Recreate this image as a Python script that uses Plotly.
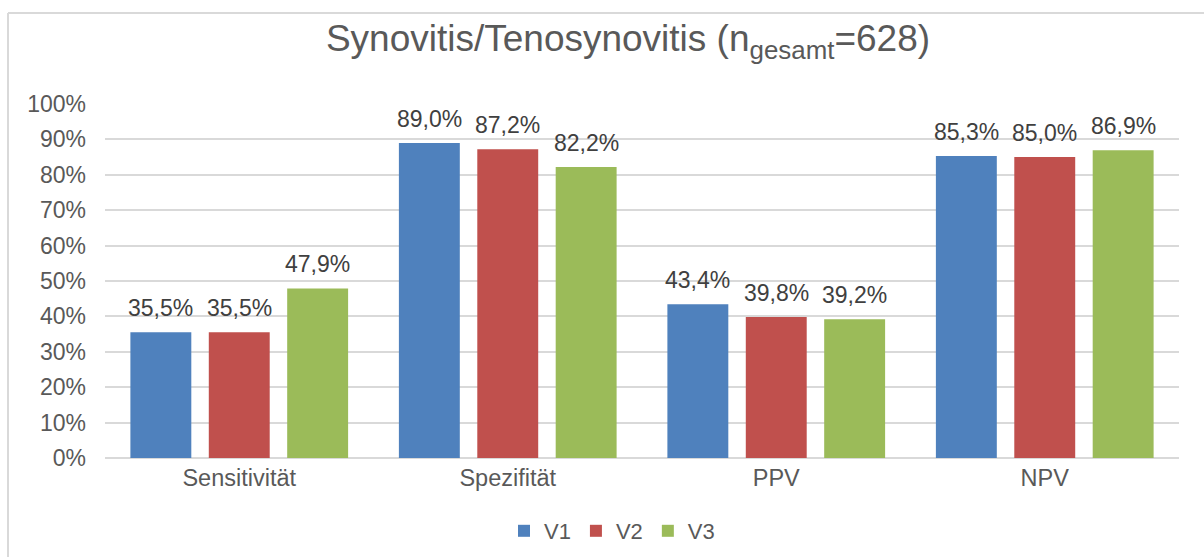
import plotly.graph_objects as go

categories = ["Sensitivität", "Spezifität", "PPV", "NPV"]
series_names = ["V1", "V2", "V3"]
v1 = [35.5, 89.0, 43.4, 85.3]
v2 = [35.5, 87.2, 39.8, 85.0]
v3 = [47.9, 82.2, 39.2, 86.9]
colors = ["#4F81BD", "#C0504D", "#9BBB59"]
y_ticks = [0, 10, 20, 30, 40, 50, 60, 70, 80, 90, 100]
y_tick_labels = [f"{v}%" for v in y_ticks]

W, H = 1204, 557
ML, MR, MT, MB = 105, 25, 104, 99
PW, PH = W - ML - MR, H - MT - MB
BARGAP = 0.124
BARGROUPGAP = 0.223

fig = go.Figure()
series = [v1, v2, v3]
for name, vals, col in zip(series_names, series, colors):
    fig.add_trace(go.Bar(
        x=categories, y=vals, name=name,
        marker=dict(color=col, line=dict(width=0)),
        hoverinfo="x+y+name",
    ))

# data labels placed above each bar (grouped offsets derived from bargap)
n = len(series)
slot = (1 - BARGAP) / n
annotations = []
for j, vals in enumerate(series):
    off = (j - (n - 1) / 2) * slot
    for i, v in enumerate(vals):
        annotations.append(dict(
            x=i + off, y=v, xref="x", yref="y",
            text=f"{v:.1f}".replace(".", ",") + "%",
            showarrow=False, yanchor="bottom", xanchor="center", yshift=9,
            font=dict(size=23, color="#404040"),
        ))

def px_x(p):
    return (p - ML) / PW

def px_y(p):
    return 1 - (p - MT) / PH

border = dict(color="#D9D9D9", width=2)
shapes = [
    dict(type="line", xref="paper", yref="paper", x0=px_x(8), x1=px_x(8), y0=px_y(13), y1=px_y(570), line=border),
    dict(type="line", xref="paper", yref="paper", x0=px_x(8), x1=px_x(1215), y0=px_y(13), y1=px_y(13), line=border),
]

fig.update_layout(
    width=W, height=H,
    margin=dict(l=ML, r=MR, t=MT, b=MB, autoexpand=False),
    paper_bgcolor="white", plot_bgcolor="white",
    font=dict(family="Liberation Sans, Arial, sans-serif", color="#595959"),
    separators=",.",
    title=dict(text="Synovitis/Tenosynovitis (n<sub>gesamt</sub>=628)",
               x=px_x(628), xref="paper", xanchor="center",
               y=1 - 38 / H, yref="container", yanchor="middle",
               font=dict(size=37, color="#595959")),
    barmode="group", bargap=BARGAP, bargroupgap=BARGROUPGAP,
    xaxis=dict(showgrid=False, showline=False, ticks="", automargin=False,
               ticklabelstandoff=3,
               tickfont=dict(size=23.5, color="#595959")),
    yaxis=dict(range=[0, 100], tickmode="array", tickvals=y_ticks, ticktext=y_tick_labels,
               showgrid=True, gridcolor="#D9D9D9", gridwidth=1.5,
               zeroline=True, zerolinecolor="#D9D9D9", zerolinewidth=1.5,
               showline=False, ticks="", ticklabelstandoff=18, automargin=False,
               tickfont=dict(size=23, color="#595959")),
    legend=dict(orientation="h", x=px_x(612), xanchor="center",
                y=px_y(531), yanchor="middle",
                font=dict(size=22, color="#595959"),
                itemwidth=30, traceorder="normal"),
    shapes=shapes,
    annotations=annotations,
)

fig.write_html("out.html", config={"displayModeBar": False},
               post_script="document.body.style.margin='0';")
